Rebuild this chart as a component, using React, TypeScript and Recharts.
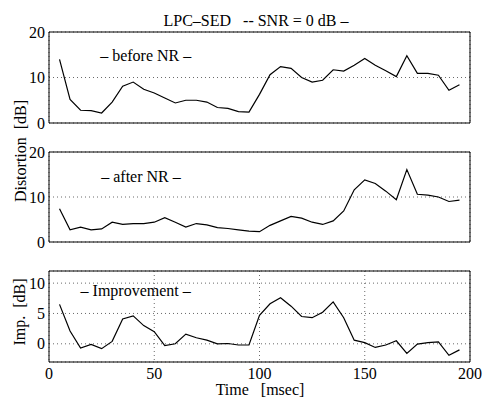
import React from 'react';
import { LineChart, Line, XAxis, YAxis, CartesianGrid, ReferenceArea, ReferenceDot } from 'recharts';

const times = [5,10,15,20,25,30,35,40,45,50,55,60,65,70,75,80,85,90,95,100,105,110,115,120,125,130,135,140,145,150,155,160,165,170,175,180,185,190,195];
const beforeNR = [14.0,5.2,2.8,2.7,2.2,4.6,8.1,9.0,7.4,6.6,5.5,4.4,5.0,5.0,4.6,3.4,3.2,2.5,2.4,6.3,10.6,12.4,12.0,10.0,9.0,9.4,11.7,11.4,12.7,14.2,12.7,11.5,10.2,14.8,10.9,10.9,10.5,7.2,8.4];
const afterNR = [7.4,2.7,3.3,2.7,2.9,4.4,3.9,4.1,4.1,4.4,5.4,4.4,3.3,4.1,3.8,3.2,3.0,2.7,2.4,2.3,3.7,4.7,5.7,5.3,4.4,3.9,4.7,6.9,11.6,13.8,13.0,11.3,9.4,16.1,10.6,10.4,10.0,9.0,9.3];
const improvement = [6.5,2.1,-0.7,-0.1,-0.8,0.4,4.1,4.6,3.0,2.0,-0.3,0.0,1.6,1.0,0.6,0.0,0.05,-0.2,-0.2,4.7,6.6,7.6,6.2,4.5,4.3,5.2,6.9,4.3,0.6,0.2,-0.6,-0.2,0.5,-1.6,-0.05,0.2,0.3,-1.9,-1.0];

const fineXTicks = [0,25,50,75,100,125,150,175,200];
const coarseXTicks = [0,50,100,150,200];
const distYTicks = [0,10,20];
const impYTicks = [0,5,10];

const data = times.map((t, i) => ({ t, before: beforeNR[i], after: afterNR[i], imp: improvement[i] }));

const FONT = '"Liberation Serif", "DejaVu Serif", serif';
const tickStyle = { fill: '#000', fontFamily: FONT, fontSize: 16 };

function Panel(props: {
  top: number; height: number; margin: any; dataKey: string; domain: [number, number];
  yTicks: number[]; xTicks: number[]; showX: boolean; label: string; labelX: number; labelY: number;
}) {
  const { top, height, margin, dataKey, domain, yTicks, xTicks, showX, label, labelX, labelY } = props;
  return (
    <div style={{ position: 'absolute', left: 0, top, width: 489, height }}>
      <LineChart width={489} height={height} data={data} margin={margin}>
        <CartesianGrid stroke="#444" strokeDasharray="1 3" strokeWidth={0.8} />
        <XAxis
          dataKey="t" type="number" domain={[0, 200]} ticks={xTicks}
          allowDataOverflow
          height={showX ? 39 : 0}
          tick={showX ? tickStyle : false}
          axisLine={false} tickLine={false} tickSize={0} tickMargin={6}
        />
        <YAxis
          type="number" domain={domain} ticks={yTicks} allowDataOverflow
          width={40} tick={tickStyle} axisLine={false} tickLine={false} tickSize={0} tickMargin={4}
          interval={0}
        />
        <ReferenceArea x1={0} x2={200} y1={domain[0]} y2={domain[1]} fill="none" stroke="#000" strokeWidth={1} ifOverflow="visible" />
        <ReferenceDot
          x={labelX} y={labelY} r={0} fill="none" stroke="none"
          label={{ value: label, position: 'right', offset: 0, fill: '#000', fontFamily: FONT, fontSize: 16 }}
        />
        <Line type="linear" dataKey={dataKey} stroke="#000" strokeWidth={1.2} dot={false} isAnimationActive={false} />
      </LineChart>
    </div>
  );
}

export default function App() {
  return (
    <div style={{ position: 'absolute', left: 0, top: 0, width: 489, height: 401, background: '#fff', fontFamily: FONT }}>
      <Panel top={0} height={135} margin={{ top: 32, right: 19, bottom: 12, left: 9 }} dataKey="before"
        domain={[0, 20]} yTicks={distYTicks} xTicks={fineXTicks} showX={false}
        label="– before NR –" labelX={24.3} labelY={14.9} />
      <Panel top={140} height={115} margin={{ top: 12, right: 19, bottom: 13, left: 9 }} dataKey="after"
        domain={[0, 20]} yTicks={distYTicks} xTicks={fineXTicks} showX={false}
        label="– after NR –" labelX={24.8} labelY={14.7} />
      <Panel top={255} height={146} margin={{ top: 16, right: 19, bottom: 0, left: 9 }} dataKey="imp"
        domain={[-3, 12]} yTicks={impYTicks} xTicks={coarseXTicks} showX={true}
        label="– Improvement –" labelX={15} labelY={8.85} />
      <svg width={489} height={401} style={{ position: 'absolute', left: 0, top: 0, pointerEvents: 'none' }}>
        <text x={256} y={20} textAnchor="middle" dominantBaseline="central" fontFamily={FONT} fontSize={16} fill="#000">
          LPC–SED{'\u00a0\u00a0\u00a0'}-- SNR = 0 dB –
        </text>
        <text x={20} y={151} textAnchor="middle" dominantBaseline="central" fontFamily={FONT} fontSize={16} fill="#000"
          transform="rotate(-90 20 151)">
          Distortion{'\u00a0\u00a0'}[dB]
        </text>
        <text x={19} y={312} textAnchor="middle" dominantBaseline="central" fontFamily={FONT} fontSize={16} fill="#000"
          transform="rotate(-90 19 312)">
          Imp.{'\u00a0\u00a0'}[dB]
        </text>
        <text x={260} y={389} textAnchor="middle" dominantBaseline="central" fontFamily={FONT} fontSize={16} fill="#000">
          Time{'\u00a0\u00a0\u00a0'}[msec]
        </text>
      </svg>
    </div>
  );
}
